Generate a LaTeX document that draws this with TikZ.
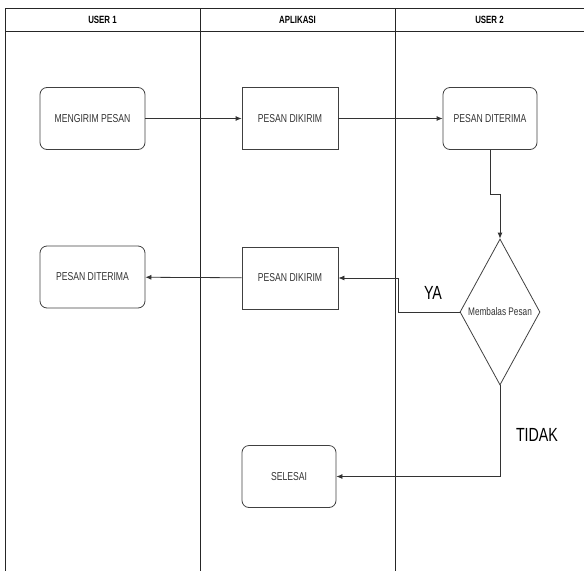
\documentclass[tikz,border=0pt]{standalone}
\usepackage{fontspec}
\setmainfont{Liberation Sans}[FakeStretch=0.75]
\usetikzlibrary{shapes.geometric,arrows.meta}

\begin{document}
\begin{tikzpicture}[x=1pt, y=-1pt,
   every node/.style={font=\fontsize{11.5}{13}\selectfont, text=black!80, inner sep=0pt},
   lane/.style={draw=black!85, line width=0.9pt},
   lane title/.style={font=\bfseries\fontsize{10.5}{12}\selectfont, text=black},
   rounded box/.style={draw=black!75, line width=0.8pt, rounded corners=7pt, minimum height=62pt},
   plain box/.style={draw=black!75, line width=0.8pt, minimum height=62pt},
   decision/.style={draw=black!75, line width=0.8pt, diamond, minimum width=80pt, minimum height=146pt,
      font=\fontsize{11}{12}\selectfont},
   flow/.style={draw=black!80, line width=0.8pt, -{Latex[length=6pt,width=5pt]}},
   answer/.style={font=\fontsize{19}{20}\selectfont, text=black}]

\useasboundingbox (0,0) rectangle (584,571);

% swimlanes
\draw[lane] (5,8) -- (584,8);
\draw[lane] (5,31) -- (584,31);
\draw[lane] (5,8) -- (5,571);
\draw[lane] (200,8) -- (200,571);
\draw[lane] (395,8) -- (395,571);

\node[lane title] (user1) at (102.5,19.5) {USER 1};
\node[lane title] (app)   at (297.5,19.5) {APLIKASI};
\node[lane title] (user2) at (489.5,19.5) {USER 2};

% steps
\node[rounded box, minimum width=105pt] (kirim)    at (92.5,118.5) {MENGIRIM PESAN};
\node[plain box,   minimum width=96pt]  (dikirim1) at (290,118.5)  {PESAN DIKIRIM};
\node[rounded box, minimum width=94pt]  (terima2)  at (490,118.5)  {PESAN DITERIMA};
\node[decision] (balas) at (500,312) {Membalas Pesan};
\node[plain box,   minimum width=96pt]  (dikirim2) at (290,278)    {PESAN DIKIRIM};
\node[rounded box, minimum width=105pt] (terima1)  at (92.5,277)   {PESAN DITERIMA};
\node[rounded box, minimum width=94pt]  (selesai)  at (289,476.5)  {SELESAI};

\node[answer] (ya)    at (433,293) {YA};
\node[answer] (tidak) at (537,435) {TIDAK};

% connectors
\draw[flow] (kirim) -- (dikirim1);
\draw[flow] (dikirim1) -- (terima2);
\draw[flow] (terima2.south) -- ++(0,44) -| (balas.north);
\draw[flow] (balas.west) -- ++(-61,0) |- (dikirim2.east);
\draw[flow] (dikirim2) -- (terima1);
\draw[flow] (balas.south) |- (selesai.east);

\end{tikzpicture}
\end{document}
